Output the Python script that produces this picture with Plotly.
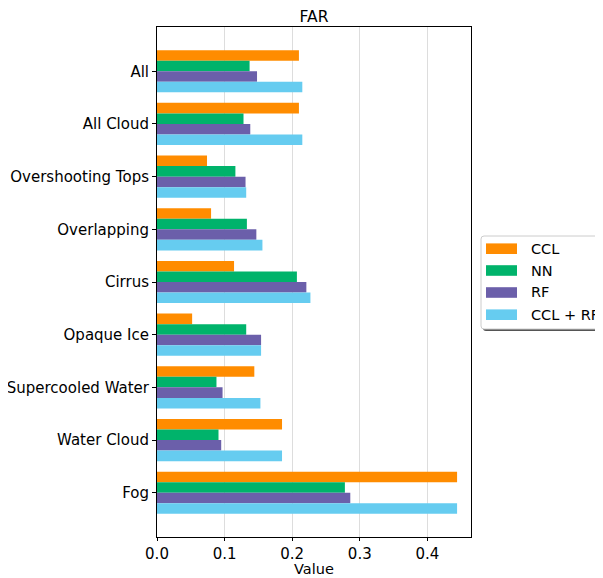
import plotly.graph_objects as go

categories = ["All", "All Cloud", "Overshooting Tops", "Overlapping", "Cirrus",
              "Opaque Ice", "Supercooled Water", "Water Cloud", "Fog"]
series_names = ["CCL", "NN", "RF", "CCL + RF"]
ccl = [0.210, 0.210, 0.074, 0.080, 0.114, 0.052, 0.144, 0.185, 0.444]
nn = [0.137, 0.128, 0.116, 0.133, 0.207, 0.132, 0.088, 0.091, 0.278]
rf = [0.148, 0.138, 0.131, 0.147, 0.221, 0.154, 0.097, 0.095, 0.286]
ccl_rf = [0.215, 0.215, 0.132, 0.156, 0.227, 0.154, 0.153, 0.185, 0.444]
colors = ["#FF8C00", "#00B36B", "#6B5FAA", "#66CCF0"]
x_ticks = [0.0, 0.1, 0.2, 0.3, 0.4]

font = "DejaVu Sans"
W, H = 603, 578
# page body has an 8px margin, so compensate
L, T, PW, PH = 149, 19, 314, 510
R = W - L - PW
B = H - T - PH


def px(X):
    return (X - L) / PW


def py(Y):
    return (T + PH - Y) / PH


fig = go.Figure()
for name, vals, col in zip(series_names, [ccl, nn, rf, ccl_rf], colors):
    fig.add_trace(go.Bar(y=categories, x=vals, name=name, orientation="h",
                         marker=dict(color=col, line=dict(width=0)),
                         showlegend=False))

# legend drawn by hand (matplotlib-style wide swatches with shadow)
bx0, by0, bx1, by1 = 473, 228, 615, 321
r = 3


def rounded(x0, y0, x1, y1):
    return (f"M {px(x0 + r)},{py(y0)} L {px(x1 - r)},{py(y0)} "
            f"Q {px(x1)},{py(y0)} {px(x1)},{py(y0 + r)} L {px(x1)},{py(y1 - r)} "
            f"Q {px(x1)},{py(y1)} {px(x1 - r)},{py(y1)} L {px(x0 + r)},{py(y1)} "
            f"Q {px(x0)},{py(y1)} {px(x0)},{py(y1 - r)} L {px(x0)},{py(y0 + r)} "
            f"Q {px(x0)},{py(y0)} {px(x0 + r)},{py(y0)} Z")


shapes = [
    dict(type="path", xref="paper", yref="paper", path=rounded(bx0 + 2, by0 + 2, bx1 + 2, by1 + 2),
         fillcolor="#555555", line=dict(width=0), layer="above"),
    dict(type="path", xref="paper", yref="paper", path=rounded(bx0, by0, bx1, by1),
         fillcolor="white", line=dict(color="#CCCCCC", width=1), layer="above"),
]
annotations = []
row_y = [240.7, 262.5, 284.5, 306.7]
for name, col, yc in zip(series_names, colors, row_y):
    shapes.append(dict(type="rect", xref="paper", yref="paper",
                       x0=px(478), x1=px(509), y0=py(yc - 5.3), y1=py(yc + 5.3),
                       fillcolor=col, line=dict(width=0), layer="above"))
    annotations.append(dict(text=name, xref="paper", yref="paper", x=px(521), y=py(yc),
                            xanchor="left", yanchor="middle", showarrow=False,
                            font=dict(size=14.5, family=font, color="black")))

# x axis title
annotations.append(dict(text="Value", xref="paper", yref="paper", x=0.5, y=py(561),
                        xanchor="center", yanchor="middle", showarrow=False,
                        font=dict(size=14.5, family=font, color="black")))

fig.update_layout(
    width=W, height=H,
    margin=dict(l=L, r=R, t=T, b=B, autoexpand=False),
    paper_bgcolor="white", plot_bgcolor="white",
    barmode="group", bargap=0.2, bargroupgap=0,
    font=dict(family=font, size=15, color="black"),
    title=dict(text="FAR", x=(L + PW / 2) / W, xanchor="center",
               y=1 - 8.7 / H, yanchor="middle", font=dict(size=15.5)),
    showlegend=False,
    shapes=shapes,
    annotations=annotations,
)
fig.update_xaxes(range=[0, 0.4646], tickvals=x_ticks,
                 ticktext=[f"{v:.1f}" for v in x_ticks],
                 tickfont=dict(size=15), automargin=False,
                 showgrid=True, gridcolor="#DDDDDD", gridwidth=1,
                 showline=True, linecolor="black", linewidth=1, mirror=True,
                 ticks="outside", ticklen=3, tickcolor="black",
                 zeroline=False)
fig.update_yaxes(categoryorder="array", categoryarray=categories,
                 range=[8.84, -0.84], showgrid=False, tickfont=dict(size=15),
                 automargin=False,
                 showline=True, linecolor="black", linewidth=1, mirror=True,
                 ticks="outside", ticklen=4, tickcolor="black")

fig.write_html("out.html")
